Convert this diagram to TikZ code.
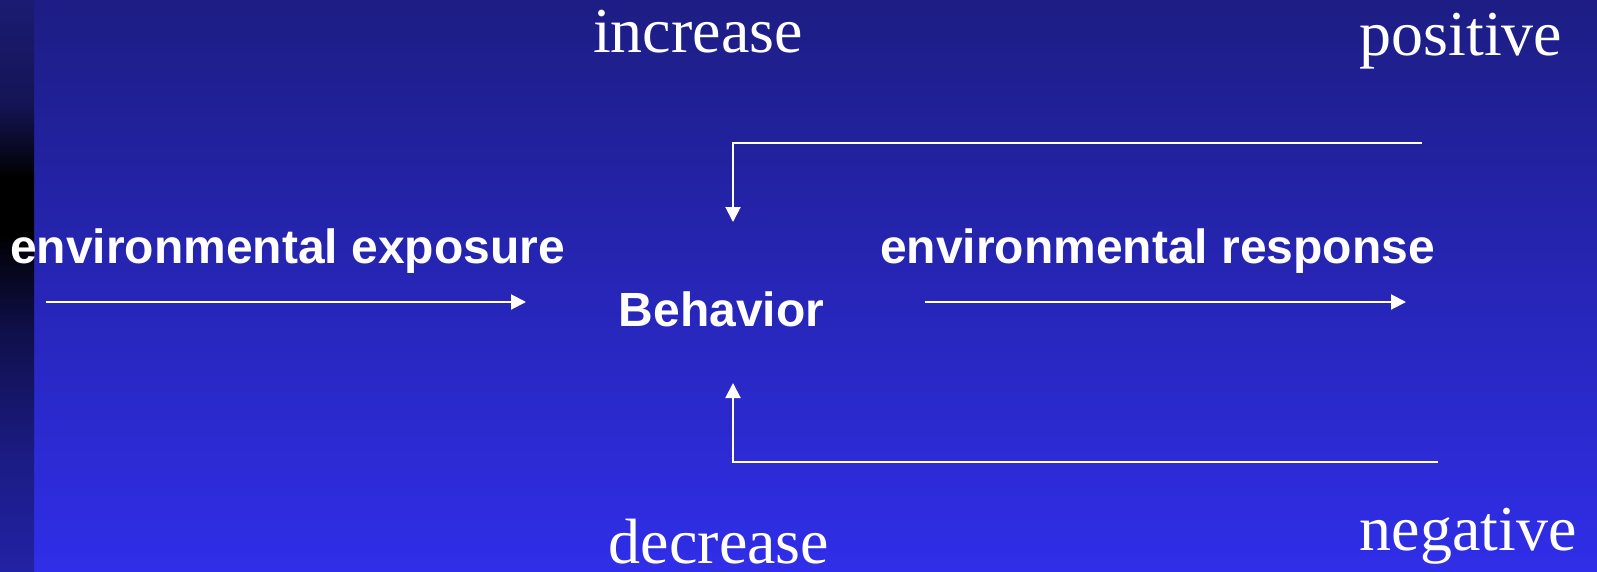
\documentclass[tikz,border=0pt]{standalone}
\usepackage{fontspec}
\setmainfont{Liberation Serif}
\setsansfont{Liberation Sans}
\usetikzlibrary{arrows.meta}
\definecolor{bgtop}{RGB}{29,29,132}
\definecolor{bgbot}{RGB}{48,46,232}
\definecolor{striptop}{RGB}{27,27,115}
\definecolor{stripbot}{RGB}{34,34,165}
% side band: blue at both ends, black a little above the middle
\pgfdeclareverticalshading{stripshade}{100bp}{%
  color(0bp)=(stripbot);
  color(25bp)=(stripbot);
  color(35bp)=(stripbot!80!black);
  color(46bp)=(stripbot!45!black);
  color(52bp)=(black!85!stripbot);
  color(54.5bp)=(black);
  color(59.5bp)=(black);
  color(61bp)=(black!80!striptop);
  color(66bp)=(striptop!75!black);
  color(75bp)=(striptop);
  color(100bp)=(striptop)}
\tikzset{
  serifword/.style={font=\fontsize{64}{64}\selectfont, text=white, inner sep=0pt, anchor=base},
  boldword/.style={font=\sffamily\bfseries\fontsize{48}{48}\selectfont, text=white, inner sep=0pt, anchor=base},
  flow/.style={draw=white, line width=2pt, -{Triangle[length=15pt,width=15pt]}}
}
\begin{document}
\begin{tikzpicture}[x=1pt,y=-1pt]
  \useasboundingbox (0,0) rectangle (1597,571);
  % backdrop
  \shade[top color=bgtop, bottom color=bgbot] (0,0) rectangle (1597,571);
  \shade[shading=stripshade] (0,0) rectangle (34,571);
  % labels
  \node[serifword] (inc) at (698,52) {increase};
  \node[serifword] (pos) at (1461,55) {positive};
  \node[serifword] (dec) at (719,563) {decrease};
  \node[serifword] (neg) at (1468,550) {negative};
  \node[boldword] (expo) at (287.5,263) {environmental exposure};
  \node[boldword] (resp) at (1157.5,263) {environmental response};
  \node[boldword] (beh) at (721.5,326) {Behavior};
  % connector ends
  \coordinate (expoS) at (46,302);
  \coordinate (expoE) at (526,302);
  \coordinate (respS) at (925,302);
  \coordinate (respE) at (1406,302);
  \coordinate (posS) at (1422,143);
  \coordinate (posE) at (733,222);
  \coordinate (negS) at (1438,462);
  \coordinate (negE) at (733,383);
  % connectors
  \draw[flow] (expoS) -- (expoE);
  \draw[flow] (respS) -- (respE);
  \draw[flow] (posS) -| (posE);
  \draw[flow] (negS) -| (negE);
\end{tikzpicture}
\end{document}
